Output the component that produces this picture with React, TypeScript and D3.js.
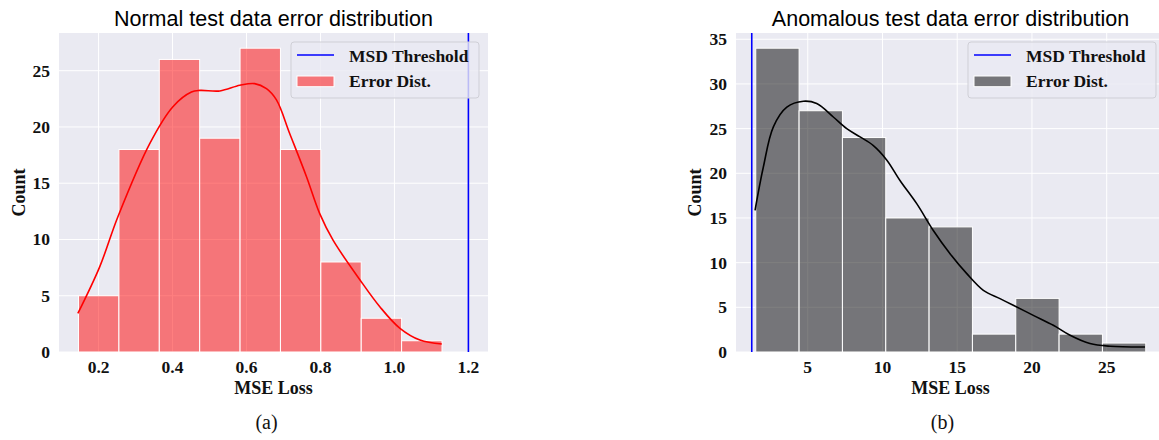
import React from "react";
import * as d3 from "d3";

// panel (a): normal test data
const normalCounts = [5, 18, 26, 19, 27, 18, 8, 3, 1];
const normalBinStart = 0.1458;
const normalBinWidth = 0.1092;
const normalThreshold = 1.2;
const normalXTicks = [0.2, 0.4, 0.6, 0.8, 1.0, 1.2];
const normalYTicks = [0, 5, 10, 15, 20, 25];
const normalKdeX = [0.144, 0.203, 0.252, 0.338, 0.401, 0.451, 0.474, 0.528, 0.582, 0.622, 0.654, 0.681, 0.717, 0.762, 0.798, 0.834, 0.907, 0.961, 1.015, 1.069, 1.128];
const normalKdeY = [3.43, 7.57, 12.0, 18.5, 21.8, 23.1, 23.25, 23.2, 23.7, 23.85, 23.4, 22.4, 19.4, 15.6, 12.3, 9.94, 6.4, 4.0, 2.1, 1.06, 0.71];

// panel (b): anomalous test data
const anomCounts = [34, 27, 24, 15, 14, 2, 6, 2, 1];
const anomBinStart = 1.522;
const anomBinWidth = 2.899;
const anomThreshold = 1.254;
const anomXTicks = [5, 10, 15, 20, 25];
const anomYTicks = [0, 5, 10, 15, 20, 25, 30, 35];
const anomKdeX = [1.475, 2.03, 2.7, 3.6, 4.71, 5.6, 6.71, 7.61, 8.5, 9.39, 10.28, 11.17, 12.29, 13.4, 14.52, 15.64, 16.75, 17.86, 18.75, 20.09, 21.43, 22.55, 23.88, 25.22, 27.56];
const anomKdeY = [15.86, 20.7, 25.2, 27.4, 28.06, 27.8, 26.3, 25.0, 24.07, 23.1, 21.5, 19.2, 16.6, 13.6, 11.0, 8.77, 6.9, 5.97, 5.23, 4.1, 2.99, 1.87, 0.94, 0.64, 0.56];

const serif = "'Liberation Serif', 'Times New Roman', serif";
const sans = "'Liberation Sans', Arial, sans-serif";

type PanelProps = {
  left: number;
  right: number;
  xDomain: [number, number];
  yMax: number;
  counts: number[];
  binStart: number;
  binWidth: number;
  threshold: number;
  xTicks: number[];
  yTicks: number[];
  kdeX: number[];
  kdeY: number[];
  color: string;
  title: string;
  caption: string;
  captionX: number;
  countX: number;
  fmt: (v: number) => string;
};

function Panel(p: PanelProps) {
  const top = 33;
  const bottom = 352;
  const x = d3.scaleLinear().domain(p.xDomain).range([p.left, p.right]);
  const y = d3.scaleLinear().domain([0, p.yMax]).range([bottom, top]);
  const line = d3
    .line<number>()
    .x((_, i) => x(p.kdeX[i]))
    .y((d) => y(d))
    .curve(d3.curveCatmullRom);
  const mid = (p.left + p.right) / 2;
  const lg = { x: p.right - 9 - 188, y: top + 9 };
  return (
    <g>
      <rect x={p.left} y={top} width={p.right - p.left} height={bottom - top} fill="#eaeaf2" />
      {p.xTicks.map((t) => (
        <line key={"gx" + t} x1={x(t)} x2={x(t)} y1={top} y2={bottom} stroke="#fff" strokeWidth={1} />
      ))}
      {p.yTicks.map((t) => (
        <line key={"gy" + t} x1={p.left} x2={p.right} y1={y(t)} y2={y(t)} stroke="#fff" strokeWidth={1} />
      ))}
      {p.counts.map((c, i) => {
        const x0 = x(p.binStart + i * p.binWidth);
        const x1 = x(p.binStart + (i + 1) * p.binWidth);
        return (
          <rect key={"b" + i} x={x0} y={y(c)} width={x1 - x0} height={bottom - y(c)}
            fill={p.color} fillOpacity={0.5} stroke="#fff" strokeWidth={1} />
        );
      })}
      <path d={line(p.kdeY) || ""} fill="none" stroke={p.color} strokeWidth={1.6} />
      <line x1={x(p.threshold)} x2={x(p.threshold)} y1={top} y2={bottom} stroke="#0000ff" strokeWidth={1.6} />
      {/* legend */}
      <rect x={lg.x} y={lg.y} width={188} height={56} rx={3} fill="#eaeaf2" fillOpacity={0.8} stroke="#cfcfd6" strokeWidth={1} />
      <line x1={lg.x + 6} x2={lg.x + 43} y1={lg.y + 13} y2={lg.y + 13} stroke="#0000ff" strokeWidth={1.6} />
      <rect x={lg.x + 6} y={lg.y + 34} width={37} height={10.7} fill={p.color} fillOpacity={0.5} stroke="#fff" strokeWidth={1} />
      <text x={lg.x + 58} y={lg.y + 19.7} fontFamily={serif} fontWeight="bold" fontSize={17.5} fill="#111">MSD Threshold</text>
      <text x={lg.x + 58} y={lg.y + 45.3} fontFamily={serif} fontWeight="bold" fontSize={17.5} fill="#111">Error Dist.</text>
      {/* ticks */}
      {p.xTicks.map((t) => (
        <text key={"tx" + t} x={x(t)} y={bottom + 20.7} textAnchor="middle" fontFamily={serif} fontWeight="bold" fontSize={17.5} fill="#111">
          {p.fmt(t)}
        </text>
      ))}
      {p.yTicks.map((t) => (
        <text key={"ty" + t} x={p.left - 9} y={y(t)} dy="0.34em" textAnchor="end" fontFamily={serif} fontWeight="bold" fontSize={17.5} fill="#111">
          {t}
        </text>
      ))}
      <text x={mid} y={26} textAnchor="middle" fontFamily={sans} fontSize={21.5} fill="#000">{p.title}</text>
      <text x={mid} y={394.3} textAnchor="middle" fontFamily={serif} fontWeight="bold" fontSize={18} fill="#111">MSE Loss</text>
      <text transform={`translate(${p.countX},${(top + bottom) / 2}) rotate(-90)`} textAnchor="middle" dy="0.35em"
        fontFamily={serif} fontWeight="bold" fontSize={18} fill="#111">Count</text>
      <text x={p.captionX} y={429} textAnchor="middle" fontFamily={serif} fontSize={20} fill="#111">{p.caption}</text>
    </g>
  );
}

export default function App() {
  return (
    <svg width={1159} height={440} style={{ position: "absolute", left: 0, top: 0, background: "#fff" }}>
      <Panel left={59} right={488} xDomain={[0.093, 1.253]} yMax={27 * 1.05}
        counts={normalCounts} binStart={normalBinStart} binWidth={normalBinWidth} threshold={normalThreshold}
        xTicks={normalXTicks} yTicks={normalYTicks} kdeX={normalKdeX} kdeY={normalKdeY}
        color="#ff0000" title="Normal test data error distribution" caption="(a)" captionX={266.5} countX={18.5}
        fmt={(v) => v.toFixed(1)} />
      <Panel left={736} right={1165} xDomain={[0.2, 28.9]} yMax={34 * 1.05}
        counts={anomCounts} binStart={anomBinStart} binWidth={anomBinWidth} threshold={anomThreshold}
        xTicks={anomXTicks} yTicks={anomYTicks} kdeX={anomKdeX} kdeY={anomKdeY}
        color="#000000" title="Anomalous test data error distribution" caption="(b)" captionX={942.5} countX={695}
        fmt={(v) => String(v)} />
    </svg>
  );
}
